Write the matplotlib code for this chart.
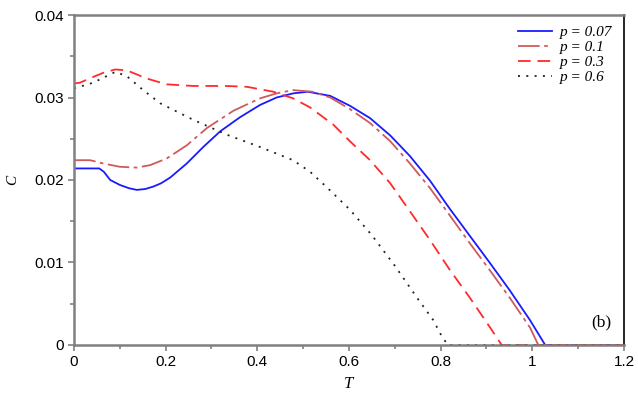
import matplotlib
matplotlib.use("Agg")
import matplotlib.pyplot as plt
from matplotlib.ticker import MultipleLocator

# p = 0.07
T1 = [0, 0.055, 0.065, 0.079, 0.10, 0.12, 0.137, 0.155, 0.173, 0.19, 0.21, 0.246, 0.282, 0.319,
      0.362, 0.406, 0.442, 0.478, 0.51, 0.559, 0.602, 0.646, 0.69, 0.733, 0.777, 0.82, 0.864,
      0.908, 0.951, 0.995, 1.028, 1.2]
C1 = [0.0214, 0.0214, 0.0210, 0.0200, 0.0194, 0.0190, 0.0188, 0.0189, 0.0192, 0.0196, 0.0203,
      0.0220, 0.0240, 0.0259, 0.0276, 0.0291, 0.0300, 0.0305, 0.0307, 0.0302, 0.0290, 0.0275,
      0.0254, 0.0229, 0.0199, 0.0165, 0.0132, 0.0099, 0.0066, 0.0030, 0.0, 0.0]
# p = 0.1
T2 = [0, 0.035, 0.064, 0.10, 0.137, 0.166, 0.202, 0.246, 0.29, 0.348, 0.406, 0.442, 0.478,
      0.52, 0.559, 0.602, 0.646, 0.69, 0.733, 0.777, 0.82, 0.864, 0.908, 0.951, 0.995, 1.013, 1.2]
C2 = [0.0224, 0.0224, 0.0220, 0.0216, 0.0215, 0.0218, 0.0226, 0.0242, 0.0263, 0.0284, 0.0299,
      0.0305, 0.0309, 0.0307, 0.0300, 0.0286, 0.0269, 0.0247, 0.0220, 0.0190, 0.0157, 0.0123,
      0.0090, 0.0057, 0.0021, 0.0, 0.0]
# p = 0.3
T3 = [0, 0.013, 0.042, 0.064, 0.09, 0.115, 0.159, 0.202, 0.26, 0.333, 0.377, 0.435, 0.478,
      0.515, 0.566, 0.602, 0.646, 0.69, 0.733, 0.777, 0.82, 0.864, 0.908, 0.933, 1.2]
C3 = [0.0317, 0.0318, 0.0325, 0.0330, 0.0334, 0.0333, 0.0323, 0.0316, 0.0314, 0.0314, 0.0313,
      0.0307, 0.0299, 0.0288, 0.0267, 0.0247, 0.0224, 0.0196, 0.0162, 0.0127, 0.0091, 0.0057,
      0.0021, 0.0, 0.0]
# p = 0.6
T4 = [0, 0.042, 0.064, 0.09, 0.115, 0.151, 0.188, 0.26, 0.333, 0.406, 0.478, 0.515, 0.55,
      0.602, 0.65, 0.70, 0.75, 0.784, 0.799, 0.815, 1.2]
C4 = [0.0311, 0.0318, 0.0324, 0.0331, 0.0326, 0.0309, 0.0293, 0.0273, 0.0255, 0.0240, 0.0224,
      0.0210, 0.0192, 0.0164, 0.0133, 0.0096, 0.0056, 0.0030, 0.0014, 0.0, 0.0]

labels = ["p = 0.07", "p = 0.1", "p = 0.3", "p = 0.6"]
xticks = [0, 0.2, 0.4, 0.6, 0.8, 1, 1.2]
xticklabels = ["0", "0.2", "0.4", "0.6", "0.8", "1", "1.2"]
yticks = [0, 0.01, 0.02, 0.03, 0.04]
yticklabels = ["0", "0.01", "0.02", "0.03", "0.04"]

fig = plt.figure(figsize=(6.38, 3.96), dpi=100)
ax = fig.add_axes([0.116, 0.129, 0.862, 0.833])

ax.plot(T1, C1, color="#1a1aff", lw=1.3, label=labels[0])
ax.plot(T2, C2, color="#d05a5a", lw=1.3, dashes=(12, 2.5, 2, 2.5), label=labels[1])
ax.plot(T3, C3, color="#ff2a2a", lw=1.3, dashes=(7, 3.8), label=labels[2])
ax.plot(T4, C4, color="#222222", lw=1.3, dashes=(1.1, 3.5), label=labels[3])

ax.set_xlim(0, 1.2)
ax.set_ylim(0, 0.04)
ax.set_xticks(xticks)
ax.set_xticklabels(xticklabels)
ax.set_yticks(yticks)
ax.set_yticklabels(yticklabels)
ax.xaxis.set_minor_locator(MultipleLocator(0.1))
ax.yaxis.set_minor_locator(MultipleLocator(0.005))

for s in ["left", "bottom", "top"]:
    ax.spines[s].set_color("#808080")
    ax.spines[s].set_linewidth(1.8)
ax.spines["right"].set_color("#000000")
ax.spines["right"].set_linewidth(1.2)

ax.tick_params(which="both", direction="out", color="#808080", width=1.2,
               labelsize=11, labelfontfamily="Liberation Sans", pad=3)
ax.tick_params(which="major", length=4)
ax.tick_params(which="minor", length=3)

ax.set_xlabel("T", fontfamily="Liberation Serif", fontstyle="italic", fontsize=12, labelpad=5)
ax.set_ylabel("C", fontfamily="Liberation Serif", fontstyle="italic", fontsize=11, labelpad=11)

leg = ax.legend(loc="upper right", frameon=False, handlelength=2.2, handletextpad=0.52,
                labelspacing=0.08, borderaxespad=0.0, borderpad=0.0,
                bbox_to_anchor=(0.978, 0.968),
                prop={"family": "Liberation Serif", "style": "italic", "size": 11})

ax.text(0.978, 0.045, "(b)", transform=ax.transAxes, ha="right", va="bottom",
        fontfamily="Liberation Serif", fontsize=12.5)

fig.savefig("out.png", dpi=100)
